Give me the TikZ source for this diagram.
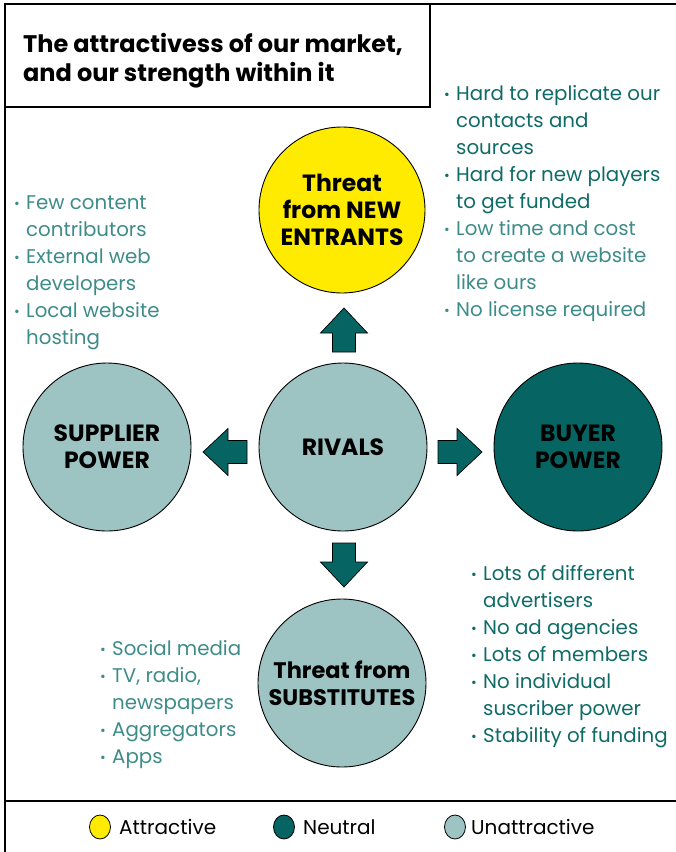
\documentclass[tikz,border=0pt]{standalone}
\usepackage{fontspec}
\usepackage{graphicx}
\setmainfont{Poppins}
\usetikzlibrary{shapes.geometric}
\definecolor{ylw}{HTML}{FFEB00}
\definecolor{neutral}{HTML}{066562}
\definecolor{pale}{HTML}{9DC3C3}
\definecolor{txtdark}{HTML}{0F6B67}
\definecolor{txtlight}{HTML}{3D8C89}
\newcommand{\bdot}{\makebox[12pt][l]{\raisebox{1.5pt}{\scalebox{0.7}{•}}}}
\begin{document}
\begin{tikzpicture}[x=1pt,y=-1pt,
  circ/.style={circle, draw=black, line width=0.9pt, inner sep=0pt, align=center,
     minimum size=168pt, font=\fontsize{23.5}{27}\selectfont\bfseries},
  blockarr/.style={fill=neutral, draw=black, line width=0.7pt, line join=miter},
  blist/.style={anchor=north west, inner sep=0pt, align=left,
     font=\fontsize{19.8}{27}\selectfont},
  legc/.style={ellipse, draw=black, line width=0.8pt, minimum width=21pt, minimum height=24pt, inner sep=0pt},
  legt/.style={anchor=west, inner sep=0pt, font=\fontsize{20}{22}\selectfont}
]
\useasboundingbox (0,0) rectangle (676,852);
% frame
\draw[line width=1.6pt] (5,852) -- (5,4) -- (676,4);
\draw[line width=1.2pt] (5,107) -- (430,107) -- (430,4);
\draw[line width=1.2pt] (5,801) -- (676,801);
% title
\node[anchor=north west, inner sep=0pt, align=left, font=\fontsize{24}{29}\selectfont\bfseries] (title) at (23,33)
  {The attractivess of our market,\\and our strength within it};
% circles
\node[circ, fill=ylw, minimum size=166pt] (new) at (342,210) {Threat\\from NEW\\ENTRANTS};
\node[circ, fill=pale] (riv) at (343,447) {RIVALS};
\node[circ, fill=pale] (sup) at (107,447) {SUPPLIER\\POWER};
\node[circ, fill=neutral] (buy) at (578,447) {BUYER\\POWER};
\node[circ, fill=pale, font=\fontsize{22.5}{27}\selectfont\bfseries] (sub) at (342,683) {Threat from\\SUBSTITUTES};
% block arrows
\coordinate (au) at (344,330);
\coordinate (al) at (225,452);
\coordinate (ar) at (460,452);
\coordinate (ad) at (344,565);
\draw[blockarr] ([shift={(-11.5,22)}]au) -- ([shift={(-11.5,3)}]au) -- ([shift={(-23.5,3)}]au)
  -- ([shift={(0,-22)}]au) -- ([shift={(23.5,3)}]au) -- ([shift={(11.5,3)}]au) -- ([shift={(11.5,22)}]au) -- cycle;
\draw[blockarr] ([shift={(-11.5,-22)}]ad) -- ([shift={(-11.5,-3)}]ad) -- ([shift={(-23.5,-3)}]ad)
  -- ([shift={(0,22)}]ad) -- ([shift={(23.5,-3)}]ad) -- ([shift={(11.5,-3)}]ad) -- ([shift={(11.5,-22)}]ad) -- cycle;
\draw[blockarr] ([shift={(22,-11.5)}]al) -- ([shift={(3,-11.5)}]al) -- ([shift={(3,-23.5)}]al)
  -- ([shift={(-22,0)}]al) -- ([shift={(3,23.5)}]al) -- ([shift={(3,11.5)}]al) -- ([shift={(22,11.5)}]al) -- cycle;
\draw[blockarr] ([shift={(-22,-11.5)}]ar) -- ([shift={(-3,-11.5)}]ar) -- ([shift={(-3,-23.5)}]ar)
  -- ([shift={(22,0)}]ar) -- ([shift={(-3,23.5)}]ar) -- ([shift={(-3,11.5)}]ar) -- ([shift={(-22,11.5)}]ar) -- cycle;
% bullets top right
\node[blist, text=txtdark] (tr1) at (444,81.5) {\begin{tabular}{@{}l@{}l@{}}
\bdot & Hard to replicate our\\ & contacts and\\ & sources\\
\bdot & Hard for new players\\ & to get funded\end{tabular}};
\node[blist, text=txtlight] (tr2) at (444,216.5) {\begin{tabular}{@{}l@{}l@{}}
\bdot & Low time and cost\\ & to create a website\\ & like ours\\
\bdot & No license required\end{tabular}};
% bullets left
\node[blist, text=txtlight] (lf) at (14,190.5) {\begin{tabular}{@{}l@{}l@{}}
\bdot & Few content\\ & contributors\\
\bdot & External web\\ & developers\\
\bdot & Local website\\ & hosting\end{tabular}};
% bullets substitutes
\node[blist, text=txtlight] (sb) at (100,636.5) {\begin{tabular}{@{}l@{}l@{}}
\bdot & Social media\\
\bdot & TV, radio,\\ & newspapers\\
\bdot & Aggregators\\
\bdot & Apps\end{tabular}};
% bullets buyer
\node[blist, text=txtdark] (bb) at (471,561.5) {\begin{tabular}{@{}l@{}l@{}}
\bdot & Lots of different\\ & advertisers\\
\bdot & No ad agencies\\
\bdot & Lots of members\\
\bdot & No individual\\ & suscriber power\\
\bdot & Stability of funding\end{tabular}};
% legend
\node[legc, fill=ylw] (l1) at (100,827) {};
\node[legt] (t1) at (119,827) {Attractive};
\node[legc, fill=neutral] (l2) at (284,827) {};
\node[legt] (t2) at (303,827) {Neutral};
\node[legc, fill=pale] (l3) at (455,827) {};
\node[legt] (t3) at (471,827) {Unattractive};
\end{tikzpicture}
\end{document}
